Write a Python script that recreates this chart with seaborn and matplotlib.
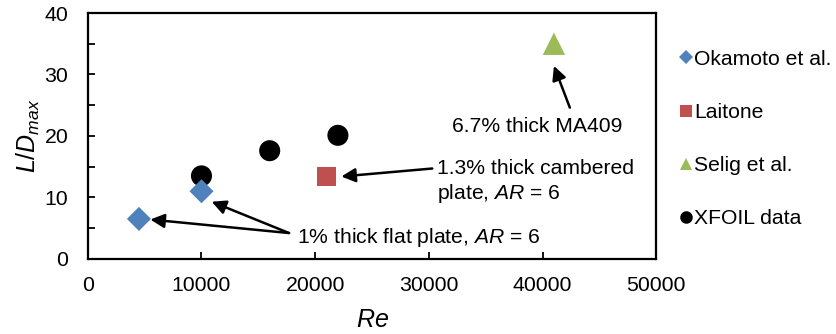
import matplotlib
matplotlib.use("Agg")
import matplotlib.pyplot as plt
import seaborn as sns
import pandas as pd
from matplotlib.ticker import MultipleLocator

sns.set_theme(style="ticks")
plt.rcParams['font.family'] = ['Liberation Sans', 'DejaVu Sans']
plt.rcParams['mathtext.fontset'] = 'custom'
plt.rcParams['mathtext.it'] = 'Liberation Sans:italic'
plt.rcParams['mathtext.rm'] = 'Liberation Sans'
for k in ['text.color', 'axes.labelcolor', 'xtick.color', 'ytick.color']:
    plt.rcParams[k] = 'black'

okamoto_re = [4500, 10000]
okamoto_ld = [6.5, 11.0]
laitone_re = [21000]
laitone_ld = [13.4]
selig_re = [41000]
selig_ld = [35.0]
xfoil_re = [10000, 16000, 22000]
xfoil_ld = [13.5, 17.6, 20.1]

series = ["Okamoto et al.", "Laitone", "Selig et al.", "XFOIL data"]
colors = ["#4F81BD", "#C0504D", "#9BBB59", "#000000"]
markers = ["D", "s", "^", "o"]
sizes = [150, 200, 260, 230]
zorders = [4, 4, 4, 3]

df = pd.concat([
    pd.DataFrame({"Re": okamoto_re, "LD": okamoto_ld, "src": series[0]}),
    pd.DataFrame({"Re": laitone_re, "LD": laitone_ld, "src": series[1]}),
    pd.DataFrame({"Re": selig_re, "LD": selig_ld, "src": series[2]}),
    pd.DataFrame({"Re": xfoil_re, "LD": xfoil_ld, "src": series[3]}),
])

fig = plt.figure(figsize=(8.36, 3.34), dpi=100)
ax = fig.add_axes([0.105, 0.225, 0.68, 0.736])

for name, c, m, s, z in zip(series, colors, markers, sizes, zorders):
    sub = df[df["src"] == name]
    sns.scatterplot(data=sub, x="Re", y="LD", ax=ax, color=c, marker=m, s=s,
                    edgecolor="none", label=name, legend=False, zorder=z)

ax.set_xlim(0, 50000)
ax.set_ylim(0, 40)
ax.xaxis.set_major_locator(MultipleLocator(10000))
ax.yaxis.set_major_locator(MultipleLocator(10))
ax.yaxis.set_minor_locator(MultipleLocator(5))
ax.tick_params(axis="both", which="both", direction="in", labelsize=15.3, width=1.3)
ax.tick_params(axis="x", which="major", length=5, pad=12)
ax.tick_params(axis="y", which="major", length=5, pad=14)
ax.tick_params(axis="y", which="minor", length=5)
for sp in ax.spines.values():
    sp.set_linewidth(1.6)
    sp.set_color("black")

ax.set_xlabel(r"$\mathit{Re}$", fontsize=18, labelpad=10)
ax.set_ylabel(r"$\mathit{L/D}_{\mathit{max}}$", fontsize=18, labelpad=2)

fs = 15.2
arrow = dict(arrowstyle="-|>,head_length=0.7,head_width=0.35", color="black", lw=1.8,
             shrinkA=0, shrinkB=0)
ax.annotate("", xy=(5500, 6.4), xytext=(17700, 4.2), arrowprops=arrow)
ax.annotate("", xy=(10900, 9.3), xytext=(17700, 4.2), arrowprops=arrow)
ax.text(18400, 3.4, r"1% thick flat plate, $\mathit{AR}$ = 6", fontsize=fs, va="center", ha="left")

ax.annotate("", xy=(22300, 13.4), xytext=(30300, 14.7), arrowprops=arrow)
ax.text(30700, 14.7, "1.3% thick cambered", fontsize=fs, va="center", ha="left")
ax.text(30700, 10.6, r"plate, $\mathit{AR}$ = 6", fontsize=fs, va="center", ha="left")

ax.annotate("", xy=(41000, 31.4), xytext=(42400, 24.6), arrowprops=arrow)
ax.text(39500, 21.5, "6.7% thick MA409", fontsize=fs, va="center", ha="center")

handles = [plt.Line2D([], [], ls="none", marker=m, color=c, markersize=ms, markeredgewidth=0)
           for c, m, ms in zip(colors, markers, [7.5, 8.5, 9, 9])]
fig.legend(handles, series, loc="upper left", bbox_to_anchor=(0.803, 0.876), frameon=False,
           fontsize=fs, handlelength=0.55, handletextpad=0.12, labelspacing=1.62, borderaxespad=0)

fig.savefig("out.png", dpi=100)
